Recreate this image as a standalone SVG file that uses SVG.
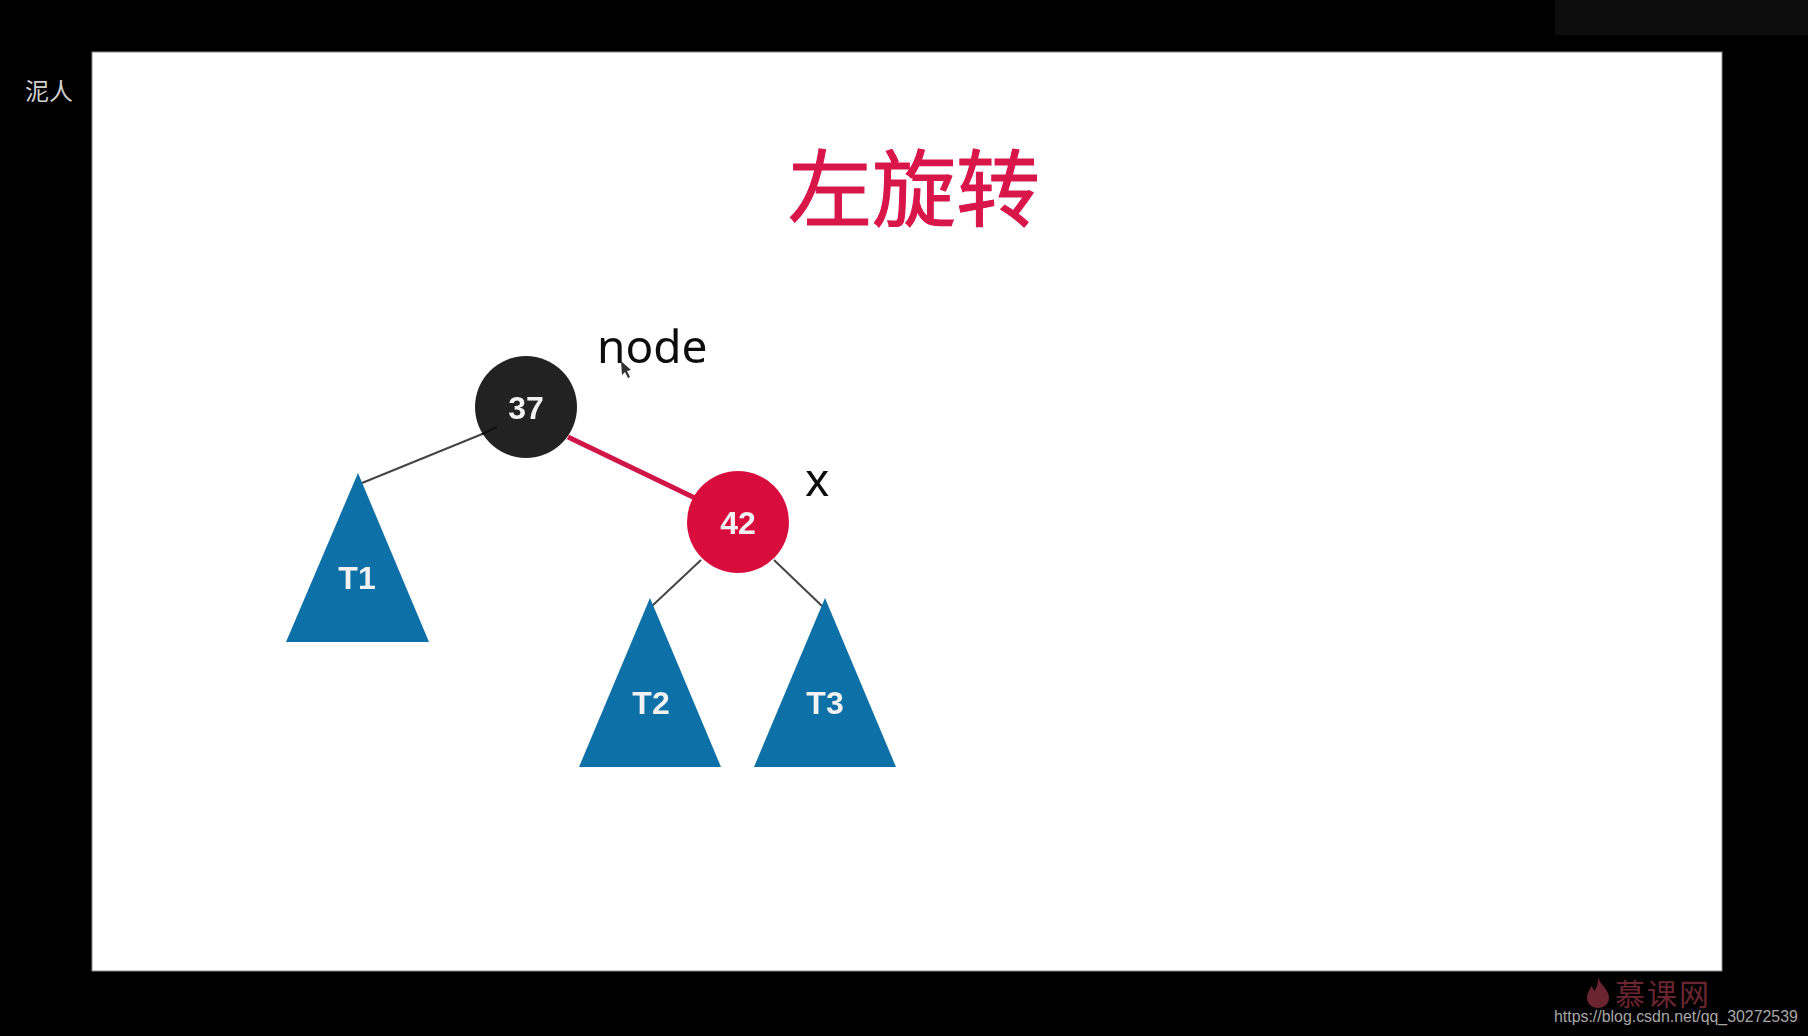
<svg xmlns="http://www.w3.org/2000/svg" width="1808" height="1036" viewBox="0 0 1808 1036">
<defs>
<style>
.num{font-family:"Liberation Sans",Arial,sans-serif;font-weight:700;font-size:32px;fill:#f2f2f2;text-anchor:middle}
.lbl{font-family:"Noto Sans","DejaVu Sans",sans-serif;fill:#111}
.tree{fill:#0a70a6}
.thin{stroke:#444;stroke-width:2;fill:none}
</style>
<filter id="soft" x="-5%" y="-5%" width="110%" height="110%"><feGaussianBlur stdDeviation="0.7"/></filter>
</defs>
<rect width="1808" height="1036" fill="#000"/>
<rect x="1555" y="0" width="253" height="35" fill="#0d0d0d"/>
<rect x="92" y="52" width="1630" height="919" fill="#fff" stroke="#888" stroke-width="1"/>
<text x="25" y="100" font-family="'Noto Sans CJK SC',sans-serif" font-size="24" fill="#d0d0d0">泥人</text>
<g filter="url(#soft)">
<text id="title" x="914" y="220" text-anchor="middle" font-family="'Noto Sans CJK SC',sans-serif" font-size="84" fill="#d9134a" stroke="#d9134a" stroke-width="1">左旋转</text>
<g id="connectors">
<line class="thin" x1="362" y1="483" x2="497" y2="428"/>
<line x1="568" y1="437" x2="695" y2="498" stroke="#d0134a" stroke-width="5"/>
<line class="thin" x1="652" y1="606" x2="701" y2="560"/>
<line class="thin" x1="822" y1="606" x2="774" y2="560"/>
</g>
<g id="node-37"><circle cx="526" cy="407" r="51" fill="#222"/><line x1="482" y1="434" x2="497" y2="427" stroke="#111" stroke-width="2"/><text class="num" x="526" y="419">37</text></g>
<g id="node-42"><circle cx="738" cy="522" r="51" fill="#d90a3c"/><text class="num" x="738" y="534">42</text></g>
<g id="t1"><polygon class="tree" points="358,473 429,642 286,642"/><text class="num" x="357" y="589">T1</text></g>
<g id="t2"><polygon class="tree" points="650,598 721,767 579,767"/><text class="num" x="651" y="714">T2</text></g>
<g id="t3"><polygon class="tree" points="825,598 896,767 754,767"/><text class="num" x="825" y="714">T3</text></g>
<text id="label-node" class="lbl" x="597" y="363" font-size="46">node</text>
<text id="label-x" class="lbl" x="805" y="496" font-size="46">x</text>
<path d="M621 361l1 14 3-3 3 6 2-1-3-6 4-1z" fill="#333"/>
</g>
<text x="1615" y="1005" font-family="'Noto Sans CJK SC',sans-serif" font-size="30" letter-spacing="2" fill="#6b2530">慕课网</text>
<path d="M1598 977c2 8 11 12 11 21 0 6-5 10-11 10s-11-4-11-10c0-5 3-8 4-12 2 2 3 3 3 5 3-3 4-8 4-14z" fill="#6b2530"/>
<text x="1554" y="1022" font-family="'Liberation Sans',Arial,sans-serif" font-size="15.9" fill="#a8a8a8">https://blog.csdn.net/qq_30272539</text>
</svg>
